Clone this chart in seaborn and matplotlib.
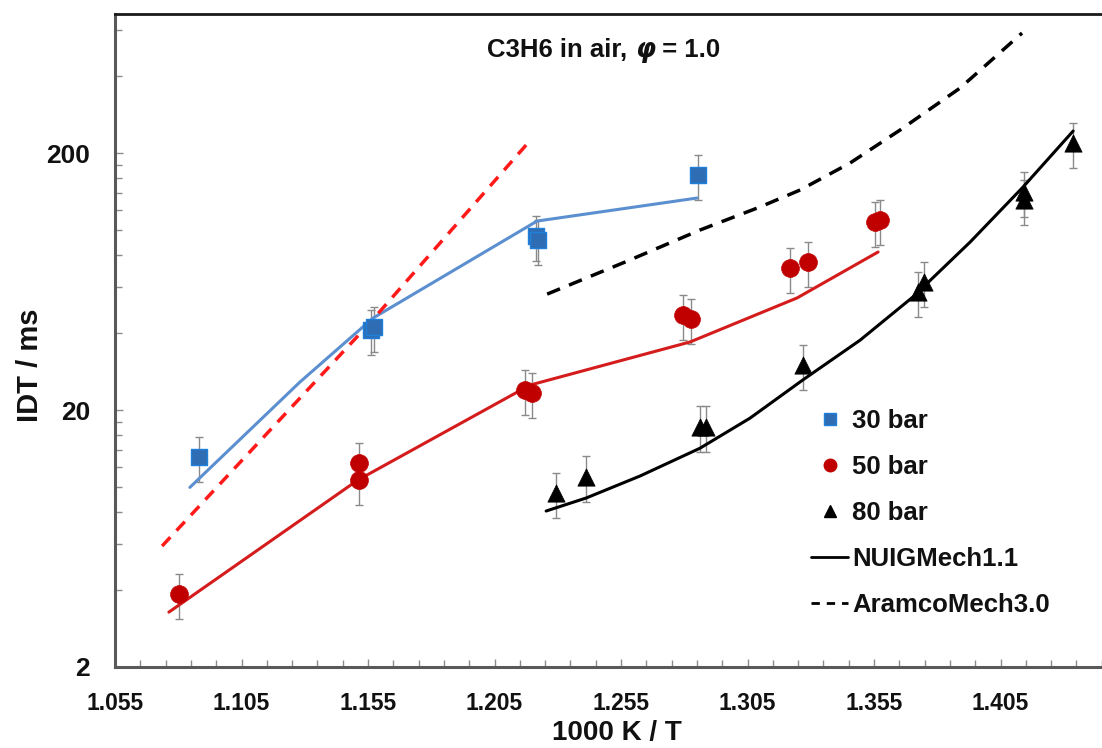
import numpy as np
import pandas as pd
import matplotlib
matplotlib.use('Agg')
import matplotlib.pyplot as plt
import seaborn as sns
from matplotlib.ticker import FixedLocator, NullFormatter, FixedFormatter
from matplotlib.lines import Line2D
from matplotlib.offsetbox import TextArea, HPacker, AnchoredOffsetbox

# experimental IDT (ms) vs 1000 K / T
x30 = [1.0882, 1.1560, 1.1572, 1.2214, 1.2222, 1.2854]
y30 = [13.1, 40.8, 42.0, 95.0, 91.5, 164.0]
x50 = [1.0803, 1.1514, 1.1514, 1.2171, 1.2198, 1.2795, 1.2827, 1.3218, 1.3289, 1.3554, 1.3574]
y50 = [3.85, 12.4, 10.7, 23.9, 23.3, 46.8, 45.2, 71.4, 75.3, 107.8, 109.8]
x80 = [1.2293, 1.2412, 1.2862, 1.2886, 1.3269, 1.3724, 1.3748, 1.4143, 1.4143, 1.4337]
y80 = [9.5, 11.0, 17.2, 17.2, 29.9, 57.6, 63.0, 141.0, 131.0, 218.8]
err_frac = 0.2

# NUIGMech1.1 simulations
nuig30_x = [1.0846, 1.1281, 1.1570, 1.2218, 1.2850]
nuig30_y = [10.0, 25.7, 45.6, 108.7, 133.6]
nuig50_x = [1.0763, 1.1510, 1.2190, 1.2823, 1.3246, 1.3566]
nuig50_y = [3.27, 10.68, 25.0, 36.8, 54.6, 82.4]
nuig80_x = [1.2254, 1.2412, 1.2625, 1.2862, 1.3060, 1.3269, 1.3495, 1.3704, 1.3930, 1.4139, 1.4337]
nuig80_y = [8.09, 9.09, 11.07, 14.2, 18.6, 26.2, 37.4, 55.1, 90.1, 147.5, 243.6]

# AramcoMech3.0 simulations
aram30_x = [1.0736, 1.1546, 1.2182]
aram30_y = [5.91, 42.4, 218.8]
aram80_x = [1.2258, 1.2566, 1.2862, 1.3099, 1.3258, 1.3455, 1.3653, 1.3890, 1.4135]
aram80_y = [56.5, 75.3, 100.3, 123.3, 143.6, 182.8, 245.8, 358.0, 586.0]

sns.set_theme(style='white')
plt.rcParams['font.family'] = ['Liberation Sans', 'DejaVu Sans']
plt.rcParams['font.weight'] = 'bold'

fig = plt.figure(figsize=(11.02, 7.48), dpi=100)
ax = fig.add_axes([115/1102, 81/748, 987/1102, 653/748])
ax.set_yscale('log')

# error bars
for xs, ys in [(x30, y30), (x50, y50), (x80, y80)]:
    ys = np.array(ys)
    ax.errorbar(xs, ys, yerr=[ys*err_frac, ys*err_frac], fmt='none', ecolor='#8a8a8a',
                elinewidth=1, capsize=3, capthick=1, zorder=2)

# model lines
sns.lineplot(x=nuig30_x, y=nuig30_y, sort=False, estimator=None, ax=ax, color='#5b8fd0', linewidth=2.2, zorder=3)
sns.lineplot(x=nuig50_x, y=nuig50_y, sort=False, estimator=None, ax=ax, color='#d41c1c', linewidth=2.2, zorder=3)
sns.lineplot(x=nuig80_x, y=nuig80_y, sort=False, estimator=None, ax=ax, color='black', linewidth=2.2, zorder=3)
sns.lineplot(x=aram30_x, y=aram30_y, sort=False, estimator=None, ax=ax, color='#ff1a1a', linewidth=2.5,
             linestyle=(0, (3.5, 2.6)), zorder=3)
sns.lineplot(x=aram80_x, y=aram80_y, sort=False, estimator=None, ax=ax, color='black', linewidth=2.5,
             linestyle=(0, (4, 2.8)), zorder=3)

# experiments
sns.scatterplot(x=x30, y=y30, marker='s', s=130, color='#2e6db4', edgecolor='#1f80dc', linewidth=1, ax=ax, zorder=4)
sns.scatterplot(x=x50, y=y50, marker='o', s=165, color='#c00000', edgecolor='#c00000', linewidth=0.5, ax=ax, zorder=4)
sns.scatterplot(x=x80, y=y80, marker='^', s=155, color='black', edgecolor='black', linewidth=0.5, ax=ax, zorder=4)

ax.set_xlim(1.055, 1.4451)
ax.set_ylim(2, 695)

xt = [1.055, 1.105, 1.155, 1.205, 1.255, 1.305, 1.355, 1.405]
ax.xaxis.set_major_locator(FixedLocator(xt))
ax.xaxis.set_major_formatter(FixedFormatter(['%.3f' % v for v in xt]))
ax.xaxis.set_minor_locator(FixedLocator(np.arange(1.055, 1.446, 0.01)))
ax.yaxis.set_major_locator(FixedLocator([2, 20, 200]))
ax.yaxis.set_major_formatter(FixedFormatter(['2', '20', '200']))
ax.yaxis.set_minor_locator(FixedLocator([2 * k * 10**n for n in range(3) for k in range(1, 10)]))
ax.yaxis.set_minor_formatter(NullFormatter())

ax.tick_params(axis='both', which='both', direction='in', color='#8c8c8c', width=1, left=True, bottom=True)
ax.tick_params(axis='both', which='major', length=6)
ax.tick_params(axis='both', which='minor', length=5)
ax.tick_params(axis='x', which='major', labelsize=16.5, pad=18)
ax.tick_params(axis='y', which='major', labelsize=19, pad=18)
for lab in ax.get_xticklabels() + ax.get_yticklabels():
    lab.set_fontweight('bold')
    lab.set_color('#111111')

for s in ['left', 'bottom']:
    ax.spines[s].set_color('#595959')
    ax.spines[s].set_linewidth(2.2)
ax.spines['top'].set_color('#1a1a1a')
ax.spines['top'].set_linewidth(2.0)
ax.spines['right'].set_visible(False)

ax.set_ylabel('')
ax.set_xlabel('')
fig.text(30/1102, 1 - 365/748, 'IDT / ms', fontsize=21, fontweight='bold', color='#111111',
         ha='center', va='center', rotation=90)
fig.text(617/1102, (748-740)/748, '1000 K / T', fontsize=20, fontweight='bold', color='#111111',
         ha='center', va='baseline')

# title with italic phi
tp = dict(fontsize=18.5, fontweight='bold', color='#111111')
parts = [TextArea('C3H6 in air, ', textprops=tp),
         TextArea('\u03c6', textprops=dict(tp, style='italic', family=['DejaVu Sans'])),
         TextArea(' = 1.0', textprops=tp)]
box = HPacker(children=parts, align='baseline', pad=0, sep=0)
anch = AnchoredOffsetbox(loc='center', child=box, pad=0, frameon=False,
                         bbox_to_anchor=(0.495, 0.945), bbox_transform=ax.transAxes, borderpad=0)
ax.add_artist(anch)

handles = [Line2D([], [], ls='none', marker='s', ms=8, color='#2e6db4', mec='#1f80dc'),
           Line2D([], [], ls='none', marker='o', ms=9, color='#c00000'),
           Line2D([], [], ls='none', marker='^', ms=9, color='black'),
           Line2D([], [], color='black', lw=2),
           Line2D([], [], color='black', lw=2, ls=(0, (3, 2.5)))]
labels = ['30 bar', '50 bar', '80 bar', 'NUIGMech1.1', 'AramcoMech3.0']
leg = ax.legend(handles, labels, loc='upper left', bbox_to_anchor=((811 - 115)/987, (667 - 409)/653),
                frameon=False, handlelength=1.44, handletextpad=0.16, labelspacing=0.86,
                borderpad=0, borderaxespad=0, prop=dict(weight='bold', size=18.5))
for t in leg.get_texts():
    t.set_color('#111111')

fig.savefig('out.png', dpi=100)
